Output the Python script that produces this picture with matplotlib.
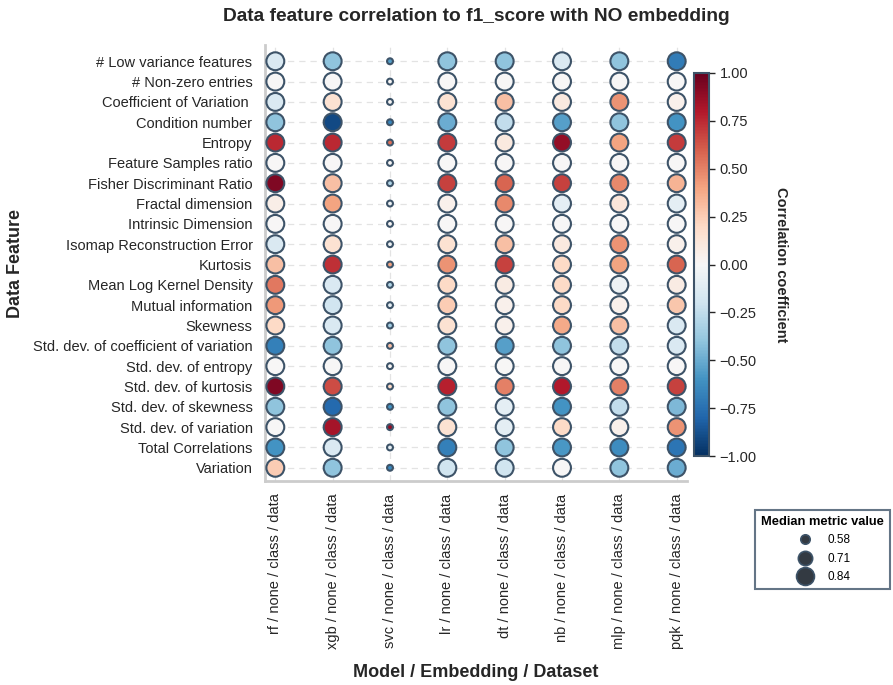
import matplotlib
matplotlib.use("Agg")
import matplotlib.pyplot as plt
from matplotlib.lines import Line2D
import numpy as np

plt.rcParams['font.family'] = ['Liberation Sans', 'DejaVu Sans']

features = [
    "# Low variance features", "# Non-zero entries", "Coefficient of Variation ",
    "Condition number", "Entropy", "Feature Samples ratio", "Fisher Discriminant Ratio",
    "Fractal dimension", "Intrinsic Dimension", "Isomap Reconstruction Error", "Kurtosis",
    "Mean Log Kernel Density", "Mutual information", "Skewness",
    "Std. dev. of coefficient of variation", "Std. dev. of entropy", "Std. dev. of kurtosis",
    "Std. dev. of skewness", "Std. dev. of variation", "Total Correlations", "Variation",
]
models = ["rf / none / class / data", "xgb / none / class / data", "svc / none / class / data",
          "lr / none / class / data", "dt / none / class / data", "nb / none / class / data",
          "mlp / none / class / data", "pqk / none / class / data"]

# correlation per feature (rows) x model (columns: rf, xgb, svc, lr, dt, nb, mlp, pqk)
corr_low_var   = [-0.15, -0.40, -0.55, -0.40, -0.40, -0.15, -0.40, -0.70]
corr_nonzero   = [0.00, 0.00, 0.00, 0.00, 0.00, 0.00, 0.00, 0.00]
corr_coefvar   = [-0.15, 0.15, 0.00, 0.15, 0.30, 0.10, 0.45, 0.05]
corr_cond      = [-0.40, -0.90, -0.65, -0.50, -0.25, -0.55, -0.40, -0.60]
corr_entropy   = [0.75, 0.75, 0.55, 0.70, 0.10, 0.88, 0.40, 0.70]
corr_fsratio   = [0.00, 0.00, 0.00, 0.00, 0.00, 0.00, 0.00, 0.00]
corr_fisher    = [0.93, 0.30, -0.30, 0.68, 0.58, 0.68, 0.48, 0.35]
corr_fractal   = [0.07, 0.40, -0.05, 0.05, 0.48, -0.10, 0.12, -0.10]
corr_intrinsic = [0.00, 0.00, 0.00, 0.00, 0.00, 0.00, 0.00, 0.00]
corr_isomap    = [-0.15, 0.15, -0.05, 0.15, 0.30, 0.10, 0.45, 0.05]
corr_kurtosis  = [0.30, 0.73, 0.40, 0.45, 0.68, 0.20, 0.40, 0.58]
corr_mlkd      = [0.53, -0.15, -0.30, 0.20, 0.08, 0.20, -0.05, 0.08]
corr_mutual    = [0.43, -0.20, -0.10, 0.25, 0.05, 0.20, 0.05, 0.28]
corr_skew      = [0.20, -0.15, -0.35, 0.15, 0.05, 0.38, 0.30, -0.15]
corr_sd_cv     = [-0.68, -0.40, 0.30, -0.40, -0.55, -0.40, -0.25, -0.15]
corr_sd_ent    = [0.00, 0.00, 0.00, 0.00, 0.00, 0.00, 0.00, 0.00]
corr_sd_kurt   = [0.93, 0.65, 0.20, 0.78, 0.50, 0.80, 0.50, 0.68]
corr_sd_skew   = [-0.40, -0.78, -0.60, -0.40, -0.10, -0.60, -0.25, -0.45]
corr_sd_var    = [0.00, 0.83, 0.88, 0.15, -0.10, 0.20, 0.05, 0.45]
corr_totcorr   = [-0.60, -0.15, -0.10, -0.68, -0.40, -0.58, -0.63, -0.73]
corr_variation = [0.25, -0.40, -0.65, -0.20, -0.20, 0.00, -0.40, -0.50]

corr = np.array([corr_low_var, corr_nonzero, corr_coefvar, corr_cond, corr_entropy,
                 corr_fsratio, corr_fisher, corr_fractal, corr_intrinsic, corr_isomap,
                 corr_kurtosis, corr_mlkd, corr_mutual, corr_skew, corr_sd_cv, corr_sd_ent,
                 corr_sd_kurt, corr_sd_skew, corr_sd_var, corr_totcorr, corr_variation])

median_metric = [0.84, 0.84, 0.52, 0.84, 0.84, 0.84, 0.84, 0.84]
legend_values = [0.58, 0.71, 0.84]

S_MIN, S_MAX = 18.0, 166.0
V_MIN, V_MAX = min(median_metric), max(median_metric)
def size_of(v):
    return S_MIN + (v - V_MIN) / (V_MAX - V_MIN) * (S_MAX - S_MIN)

edge = "#3d5368"
txt = "#262626"

fig = plt.figure(figsize=(8.93, 6.85), dpi=100)
ax = fig.add_axes([265/893, 1-481/685, 422/893, 436/685])
cax = fig.add_axes([694/893, 1-456/685, 15/893, 383/685])

nr, nc = corr.shape
xx, yy = np.meshgrid(np.arange(nc), np.arange(nr))
ss = np.array([size_of(median_metric[j]) for j in range(nc)])[None, :].repeat(nr, 0)

for i in range(nr):
    ax.axhline(i, color="#e3e3e3", lw=0.9, ls=(0, (5, 4)), zorder=0)
for j in range(nc):
    ax.axvline(j, color="#e3e3e3", lw=0.9, ls=(0, (5, 4)), zorder=0)

sc = ax.scatter(xx.ravel(), yy.ravel(), s=ss.ravel(), c=corr.ravel(), cmap="RdBu_r",
                vmin=-1, vmax=1, edgecolors=edge, linewidths=1.5, zorder=3, clip_on=False)

ax.set_xlim(-0.18, nc - 1 + 0.18)
ax.set_ylim(nr - 1 + 0.65, -0.8)
ax.set_xticks(range(nc))
ax.set_xticklabels(models, rotation=90, fontsize=10.5, color=txt)
ax.set_yticks(range(nr))
ax.set_yticklabels(features, fontsize=10.5, color=txt)
ax.tick_params(length=0, pad=9)
for sp in ["top", "right"]:
    ax.spines[sp].set_visible(False)
for sp in ["left", "bottom"]:
    ax.spines[sp].set_color("#cccccc")
    ax.spines[sp].set_linewidth(2)

ax.set_ylabel("Data Feature", fontsize=13, fontweight="bold", color=txt)
ax.yaxis.set_label_coords((24-265)/422, 0.5)
ax.set_xlabel("Model / Embedding / Dataset", fontsize=13, fontweight="bold", color=txt)
ax.xaxis.set_label_coords(0.5, (481-664)/436)
ax.set_title("Data feature correlation to f1_score with NO embedding", fontsize=13.8,
             fontweight="bold", color=txt, pad=17.5)

cb = fig.colorbar(sc, cax=cax)
cb.set_ticks([1.0, 0.75, 0.5, 0.25, 0.0, -0.25, -0.5, -0.75, -1.0])
cb.ax.set_yticklabels(["1.00", "0.75", "0.50", "0.25", "0.00", "\u22120.25", "\u22120.50",
                       "\u22120.75", "\u22121.00"])
cb.ax.tick_params(labelsize=10.5, colors=txt, length=4, width=1)
cb.outline.set_edgecolor(edge)
cb.outline.set_linewidth(1.5)
cb.set_label("Correlation coefficient", rotation=270, fontsize=10.5, fontweight="bold",
             color=txt, labelpad=23)

handles = [Line2D([], [], ls="", marker="o", markersize=np.sqrt(size_of(v)),
                  markerfacecolor="#333a42", markeredgecolor=edge, markeredgewidth=1.2)
           for v in legend_values]
leg = fig.legend(handles, [f"{v:.2f}" for v in legend_values], title="Median metric value",
                 loc="upper left", bbox_to_anchor=(755/893, 1-510/685), borderaxespad=0,
                 fontsize=8.5, title_fontproperties={"weight": "bold", "size": 9.3},
                 frameon=True, fancybox=False, labelspacing=0.55, handletextpad=0.9,
                 borderpad=0.5)
leg.get_frame().set_edgecolor(edge)
leg.get_frame().set_linewidth(1.5)

fig.savefig("out.png", dpi=100)
